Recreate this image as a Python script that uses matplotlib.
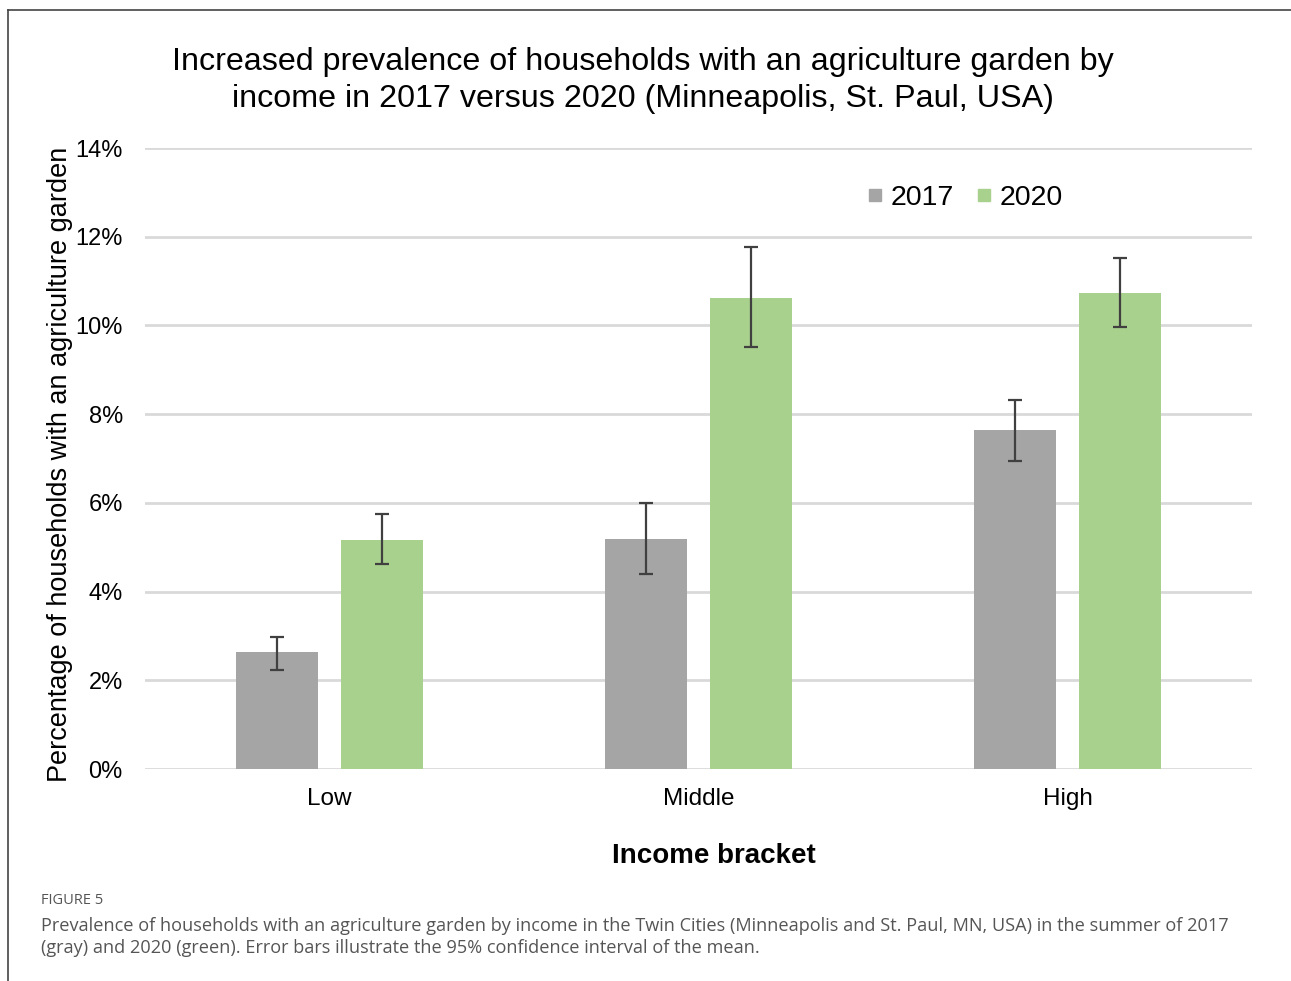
import matplotlib.pyplot as plt
import numpy as np
from matplotlib.lines import Line2D
from matplotlib.ticker import PercentFormatter

# data
brackets = ["Low", "Middle", "High"]
years = ["2017", "2020"]
pct_2017 = [2.64, 5.18, 7.64]
pct_2020 = [5.16, 10.62, 10.73]
err_lo_2017 = [2.23, 4.40, 6.94]
err_hi_2017 = [2.98, 6.00, 8.32]
err_lo_2020 = [4.62, 9.51, 9.96]
err_hi_2020 = [5.75, 11.77, 11.52]

gray = "#A5A5A5"
green = "#A9D18E"

plt.rcParams['font.family'] = ['Liberation Sans', 'DejaVu Sans']

fig = plt.figure(figsize=(12.91, 9.81), dpi=100)
ax = fig.add_axes([0.1123, 0.2161, 0.8575, 0.6330])

x = np.arange(len(brackets))
w = 0.222
off = 0.142

def yerr(vals, lo, hi):
    return [np.array(vals) - np.array(lo), np.array(hi) - np.array(vals)]

ax.bar(x - off, pct_2017, w, color=gray, zorder=2)
ax.bar(x + off, pct_2020, w, color=green, zorder=2)
ax.errorbar(x - off, pct_2017, yerr=yerr(pct_2017, err_lo_2017, err_hi_2017),
            fmt="none", ecolor="#404040", elinewidth=1.6, capsize=5, capthick=1.6, zorder=3)
ax.errorbar(x + off, pct_2020, yerr=yerr(pct_2020, err_lo_2020, err_hi_2020),
            fmt="none", ecolor="#404040", elinewidth=1.6, capsize=5, capthick=1.6, zorder=3)

ax.set_xlim(-0.5, 2.5)
ax.set_ylim(0, 14)
ax.set_yticks(np.arange(0, 15, 2))
ax.yaxis.set_major_formatter(PercentFormatter(decimals=0))
ax.set_xticks(x)
ax.set_xticklabels(brackets)
ax.tick_params(axis="both", length=0, colors="#000000")
ax.tick_params(axis="y", pad=16, labelsize=17)
ax.tick_params(axis="x", pad=14, labelsize=17.5)
ax.grid(axis="y", color="#D9D9D9", linewidth=2, zorder=0)
ax.set_axisbelow(True)
for s in ax.spines.values():
    s.set_visible(False)

ax.set_ylabel("Percentage of households with an agriculture garden", fontsize=19.5)
ax.yaxis.set_label_coords(-0.065, 0.49)
ax.set_xlabel("Income bracket", fontsize=20, fontweight="bold")
ax.xaxis.set_label_coords(0.514, -0.119)

fig.text(0.498, 0.918, "Increased prevalence of households with an agriculture garden by\nincome in 2017 versus 2020 (Minneapolis, St. Paul, USA)",
         ha="center", va="center", fontsize=23.2, linespacing=1.3)

handles = [Line2D([], [], marker="s", linestyle="none", markersize=9, color=c) for c in (gray, green)]
ax.legend(handles, years, loc="upper right", bbox_to_anchor=(0.852, 0.982), ncol=2, frameon=False,
          fontsize=20.5, handletextpad=0.1, columnspacing=0.6, handlelength=0.9)

# caption
fig.text(41 / 1291, 1 - 901 / 981, "FIGURE 5", fontsize=10.5, color="#555555",
         family=["Open Sans", "DejaVu Sans"], va="center")
fig.text(41 / 1291, 1 - 937 / 981,
         "Prevalence of households with an agriculture garden by income in the Twin Cities (Minneapolis and St. Paul, MN, USA) in the summer of 2017\n"
         "(gray) and 2020 (green). Error bars illustrate the 95% confidence interval of the mean.",
         fontsize=13.1, color="#555555", family=["Open Sans", "DejaVu Sans"], va="center", linespacing=1.35)

# frame lines (top and left)
fig.add_artist(Line2D([8 / 1291, 1], [1 - 10 / 981, 1 - 10 / 981], color="#444444", linewidth=1.2))
fig.add_artist(Line2D([8 / 1291, 8 / 1291], [0, 1 - 10 / 981], color="#444444", linewidth=1.2))

fig.savefig("out.png", dpi=100)
